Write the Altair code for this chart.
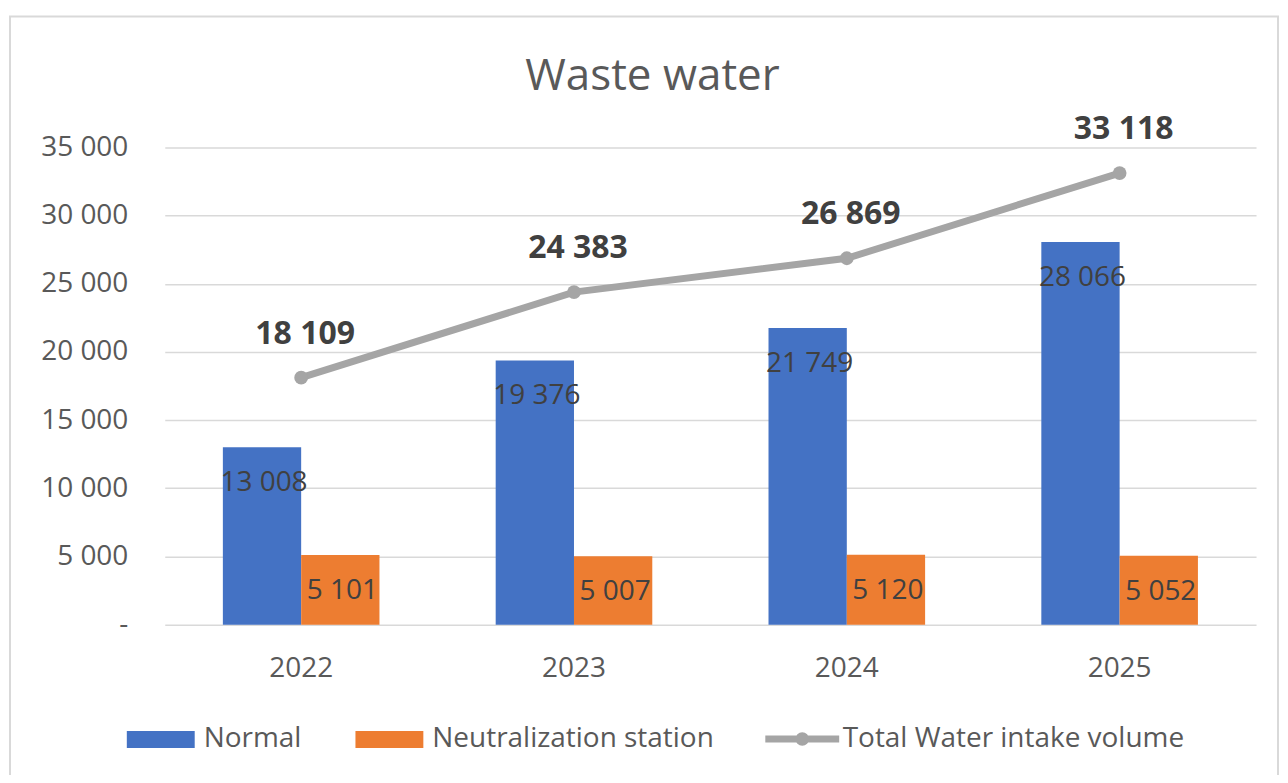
import altair as alt
import pandas as pd

years = ["2022", "2023", "2024", "2025"]
normal = [13008, 19376, 21749, 28066]
neutral = [5101, 5007, 5120, 5052]
total = [18109, 24383, 26869, 33118]
series_names = ["Normal", "Neutralization station"]
line_name = "Total Water intake volume"
chart_title = "Waste water"
y_ticks = [0, 5000, 10000, 15000, 20000, 25000, 30000, 35000]

BLUE = "#4472C4"
ORANGE = "#ED7D31"
GRAY = "#A5A5A5"
AXIS_TXT = "#595959"
LBL_TXT = "#404040"
GRID = "#D9D9D9"
FONT = "Open Sans"

PAD_L, PAD_T = 157, 139
W, H = 1093, 478


def fmt(v):
    return f"{v:,}".replace(",", " ")


bars_df = pd.DataFrame({
    "year": years * 2,
    "series": [series_names[0]] * len(years) + [series_names[1]] * len(years),
    "value": normal + neutral,
})
bars_df["label"] = bars_df["value"].map(fmt)

line_df = pd.DataFrame({"year": years, "total": total, "series": [line_name] * len(years)})
line_df["label"] = line_df["total"].map(fmt)

x_enc = alt.X(
    "year:N", sort=years, title=None,
    scale=alt.Scale(paddingInner=0.426, paddingOuter=0.213),
    axis=alt.Axis(labelAngle=0, ticks=False, domain=False, labelFont=FONT,
                  labelFontSize=28, labelColor=AXIS_TXT, labelPadding=30, grid=False),
)
y_enc = alt.Y(
    "value:Q", title=None,
    scale=alt.Scale(domain=[0, 35000], nice=False),
    axis=alt.Axis(values=y_ticks, ticks=False, domain=False, labelFont=FONT,
                  labelFontSize=28, labelColor=AXIS_TXT, labelPadding=37,
                  gridColor=GRID, gridWidth=1.5,
                  labelExpr="datum.value == 0 ? '-' : replace(format(datum.value, ','), regexp(',', 'g'), ' ')"),
)
xoff = alt.XOffset("series:N", sort=series_names, scale=alt.Scale(paddingInner=0, paddingOuter=0))

bar_legend = alt.Legend(
    title=None, orient="none", legendX=127 - (PAD_L + 8), legendY=559, direction="horizontal",
    symbolType="M-1,-0.25H1V0.25H-1Z", symbolSize=4624, symbolStrokeWidth=0,
    labelFont=FONT, labelFontSize=28, labelColor=AXIS_TXT, labelOffset=9, labelLimit=0,
    columnPadding=54, padding=0,
)

bars = alt.Chart(bars_df).mark_bar().encode(
    x=x_enc, y=y_enc, xOffset=xoff,
    fill=alt.Fill("series:N", sort=series_names,
                  scale=alt.Scale(domain=series_names, range=[BLUE, ORANGE]),
                  legend=bar_legend),
)

bar_text = alt.Chart(bars_df).mark_text(
    font=FONT, fontSize=28, color=LBL_TXT, dy=36, dx=2, baseline="middle"
).encode(x=alt.X("year:N", sort=years), y=alt.Y("value:Q"), xOffset=xoff, text="label:N")

line_legend = alt.Legend(
    title=None, orient="none", legendX=763 - (PAD_L + 8), legendY=552, direction="horizontal",
    symbolType="M-1,0H1M0.09,0A0.09,0.09 0 1,1 -0.09,0A0.09,0.09 0 1,1 0.09,0",
    symbolSize=5476, symbolStrokeWidth=7,
    labelFont=FONT, labelFontSize=28, labelColor=AXIS_TXT, labelOffset=0, labelLimit=0,
    padding=0,
)

line = alt.Chart(line_df).mark_line(strokeWidth=7).encode(
    x=alt.X("year:N", sort=years),
    y=alt.Y("total:Q"),
    stroke=alt.Stroke("series:N", scale=alt.Scale(domain=[line_name], range=[GRAY]),
                      legend=line_legend),
)

points = alt.Chart(line_df).mark_circle(size=190, color=GRAY, opacity=1).encode(
    x=alt.X("year:N", sort=years), y=alt.Y("total:Q"),
)

total_text = alt.Chart(line_df).mark_text(
    font=FONT, fontSize=32, fontWeight="bold", color=LBL_TXT, dy=-44, dx=4, baseline="middle"
).encode(x=alt.X("year:N", sort=years), y=alt.Y("total:Q"), text="label:N")

frame = alt.Chart(alt.Data(values=[{}])).mark_rect(
    fillOpacity=0, stroke=GRID, strokeWidth=2, clip=False
).encode(
    x=alt.value(10 - (PAD_L + 8)), x2=alt.value(1280 - (PAD_L + 8)),
    y=alt.value(16 - (PAD_T + 8)), y2=alt.value(800 - (PAD_T + 8)),
)

title = alt.Chart(alt.Data(values=[{"t": chart_title}])).mark_text(
    font=FONT, fontSize=44, color=AXIS_TXT, align="center", baseline="alphabetic"
).encode(
    x=alt.value(653.5 - (PAD_L + 8)), y=alt.value(90 - (PAD_T + 8)), text="t:N",
)

chart = alt.layer(frame, title, bars, bar_text, line, points, total_text).resolve_scale(
    fill="independent", stroke="independent"
).properties(
    width=W, height=H,
    autosize=alt.AutoSizeParams(type="none"),
    padding={"left": PAD_L, "top": PAD_T, "right": 1280 - 8 - PAD_L - W + 2, "bottom": 150},
    background="white",
).configure_view(strokeWidth=0)

chart.save("out.html", embed_options={"renderer": "svg", "actions": False})
